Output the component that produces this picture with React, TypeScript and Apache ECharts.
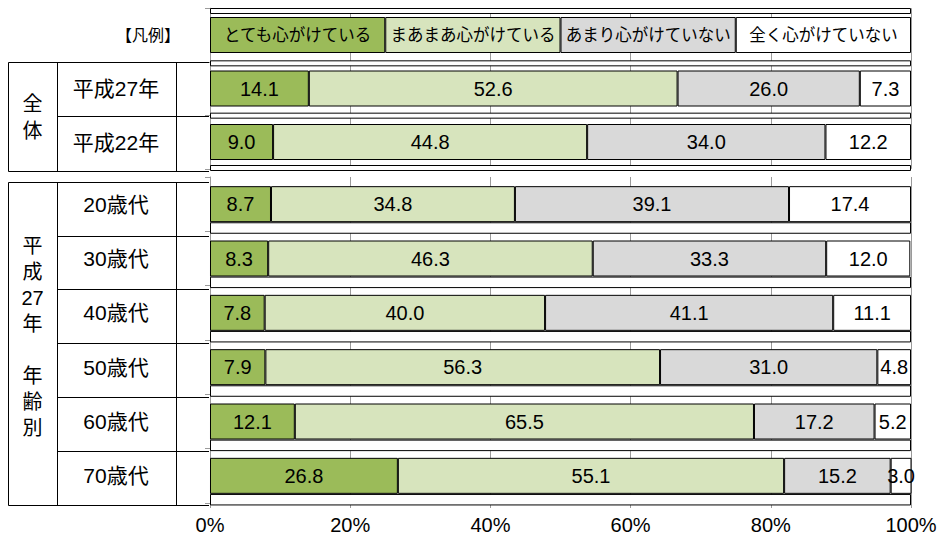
import React, { useEffect, useRef } from 'react';
import * as echarts from 'echarts';

const seriesNames = ['とても心がけている', 'まあまあ心がけている', 'あまり心がけていない', '全く心がけていない'];
const colors = ['#9BBB59', '#D7E4BD', '#D9D9D9', '#FFFFFF'];
const legendShares = [25, 25, 25, 25];
const legendTitle = '【凡例】';
const overallCategories = ['平成27年', '平成22年'];
const overallValues = [
  [14.1, 52.6, 26.0, 7.3],
  [9.0, 44.8, 34.0, 12.2],
];
const ageCategories = ['20歳代', '30歳代', '40歳代', '50歳代', '60歳代', '70歳代'];
const ageValues = [
  [8.7, 34.8, 39.1, 17.4],
  [8.3, 46.3, 33.3, 12.0],
  [7.8, 40.0, 41.1, 11.1],
  [7.9, 56.3, 31.0, 4.8],
  [12.1, 65.5, 17.2, 5.2],
  [26.8, 55.1, 15.2, 3.0],
];
const spacerValue = 100;
const groupLabelOverall = '全\n体';
const groupLabelAge = '平\n成\n27\n年\n\n年\n齢\n別';

const FONT = 'Liberation Sans, Noto Sans CJK JP, sans-serif';
const GRID_GRAY = '#9A9A9A';
const LABEL_SIZE = 20;
const PAD_FILL = '#FEFEFE';

export default function App() {
  const ref = useRef<HTMLDivElement>(null);

  useEffect(() => {
    if (!ref.current) return;
    const chart = echarts.init(ref.current, undefined, { renderer: 'svg' });

    const topCats = [legendTitle, ...overallCategories];
    const topPadCats = ['p0', 'p1', 'p2', 'p3'];
    const agePadCats = ageCategories.map((c) => c + '_pad');
    const valueLabel = (p: any) => Number(p.value).toFixed(1);

    const mainLabel = () => ({
      show: true,
      position: 'inside',
      formatter: valueLabel,
      color: '#000',
      fontSize: LABEL_SIZE,
      fontFamily: FONT,
    });

    const topMain = seriesNames.map((name, i) => ({
      type: 'bar',
      name,
      xAxisIndex: 0,
      yAxisIndex: 0,
      stack: 'topMain',
      barWidth: 36,
      data: [
        {
          value: legendShares[i],
          label: { formatter: name, fontSize: 16.5 },
        },
        ...overallValues.map((r) => r[i]),
      ],
      itemStyle: { color: colors[i], borderColor: '#000', borderWidth: 1 },
      label: mainLabel(),
      z: 3,
    }));

    const ageMain = seriesNames.map((name, i) => ({
      type: 'bar',
      name,
      xAxisIndex: 1,
      yAxisIndex: 1,
      stack: 'ageMain',
      barWidth: 36,
      data: ageValues.map((r) => r[i]),
      itemStyle: { color: colors[i], borderColor: '#000', borderWidth: 1 },
      label: mainLabel(),
      z: 3,
    }));

    const topPad = {
      type: 'bar',
      xAxisIndex: 2,
      yAxisIndex: 2,
      barWidth: 6,
      clip: false,
      data: topPadCats.map(() => spacerValue),
      itemStyle: { color: PAD_FILL, borderColor: '#000', borderWidth: 1 },
      z: 5,
    };
    const agePad = {
      type: 'bar',
      xAxisIndex: 3,
      yAxisIndex: 3,
      barWidth: 11.5,
      clip: false,
      data: agePadCats.map(() => spacerValue),
      itemStyle: { color: PAD_FILL, borderColor: '#000', borderWidth: 1 },
      z: 5,
    };

    const line = (x1: number, y1: number, x2: number, y2: number) => ({
      type: 'line',
      shape: { x1, y1, x2, y2 },
      style: { stroke: '#000', lineWidth: 1 },
      z: 50,
    });

    const t1Rows = [62.5, 116.5, 171.5];
    const t2Rows = [182.5, 236.5, 289.5, 343.5, 397.5, 451.5, 505.5];
    const graphics: any[] = [
      line(8.5, t1Rows[0], 209, t1Rows[0]),
      line(8.5, t1Rows[2], 209, t1Rows[2]),
      line(8.5, t1Rows[0], 8.5, t1Rows[2]),
      line(57.5, t1Rows[0], 57.5, t1Rows[2]),
      line(176.5, t1Rows[0], 176.5, t1Rows[2]),
      line(57.5, t1Rows[1], 209, t1Rows[1]),
      line(8.5, t2Rows[0], 209, t2Rows[0]),
      line(8.5, t2Rows[6], 209, t2Rows[6]),
      line(8.5, t2Rows[0], 8.5, t2Rows[6]),
      line(57.5, t2Rows[0], 57.5, t2Rows[6]),
      line(176.5, t2Rows[0], 176.5, t2Rows[6]),
      ...t2Rows.slice(1, 6).map((y) => line(57.5, y, 209, y)),
      {
        type: 'text',
        x: 148,
        y: 35,
        style: { text: legendTitle, fontSize: 16, fontFamily: FONT, fill: '#000', align: 'center', verticalAlign: 'middle' },
        z: 50,
      },
      {
        type: 'text',
        x: 32.5,
        y: 117,
        style: { text: groupLabelOverall, fontSize: 20, lineHeight: 27, fontFamily: FONT, fill: '#000', align: 'center', verticalAlign: 'middle' },
        z: 50,
      },
      {
        type: 'text',
        x: 32.5,
        y: 337,
        style: { text: groupLabelAge, fontSize: 20, lineHeight: 26, fontFamily: FONT, fill: '#000', align: 'center', verticalAlign: 'middle' },
        z: 50,
      },
    ];

    const catAxis = (gridIndex: number, data: string[]) => ({
      type: 'category',
      gridIndex,
      data,
      inverse: true,
      axisLine: { show: true, lineStyle: { color: GRID_GRAY, width: 1 } },
      axisTick: { show: true, length: 5, lineStyle: { color: GRID_GRAY } },
      axisLabel: {
        show: true,
        margin: 94,
        align: 'center',
        fontSize: 21,
        color: '#000',
        fontFamily: FONT,
        formatter: (v: string) => (v === legendTitle ? '' : v),
      },
    });
    const hiddenX = (gridIndex: number) => ({
      type: 'value',
      gridIndex,
      min: 0,
      max: 100,
      show: false,
    });

    chart.setOption({
      animation: false,
      grid: [
        { left: 210, right: 30, top: 8.25, height: 160.5 },
        { left: 210, right: 30, top: 177, height: 326 },
        { left: 210, right: 30, top: 11, height: 157 },
        { left: 210, right: 30, top: 228, height: 271.7 },
      ],
      xAxis: [
        {
          type: 'value',
          gridIndex: 0,
          min: 0,
          max: 100,
          interval: 20,
          axisLabel: { show: false },
          axisLine: { show: false },
          axisTick: { show: false },
          splitLine: { show: true, lineStyle: { color: GRID_GRAY, width: 1 } },
        },
        {
          type: 'value',
          gridIndex: 1,
          min: 0,
          max: 100,
          interval: 20,
          axisLabel: { show: true, formatter: '{value}%', fontSize: LABEL_SIZE, color: '#000', fontFamily: FONT, margin: 12 },
          axisLine: { show: true, lineStyle: { color: GRID_GRAY, width: 1 } },
          axisTick: { show: true, length: 5, lineStyle: { color: GRID_GRAY } },
          splitLine: { show: true, lineStyle: { color: GRID_GRAY, width: 1 } },
        },
        hiddenX(2),
        hiddenX(3),
      ],
      yAxis: [
        catAxis(0, topCats),
        catAxis(1, ageCategories),
        { type: 'category', gridIndex: 2, inverse: true, boundaryGap: false, show: false, data: topPadCats },
        { type: 'category', gridIndex: 3, inverse: true, boundaryGap: false, show: false, data: agePadCats },
      ],
      series: [...topMain, ...ageMain, topPad, agePad],
      graphic: graphics,
    });

    return () => chart.dispose();
  }, []);

  return (
    <div
      ref={ref}
      style={{ position: 'fixed', left: 0, top: 0, width: 941, height: 540, background: '#fff' }}
    />
  );
}
